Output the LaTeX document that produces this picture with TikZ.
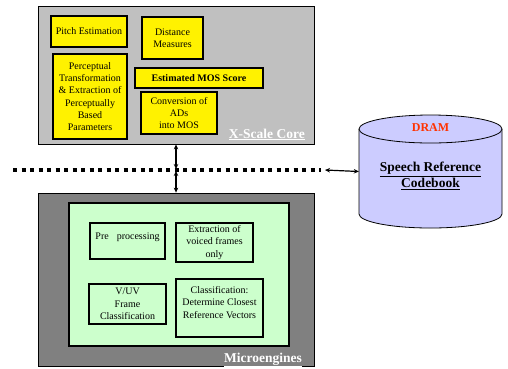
\documentclass[tikz,border=0pt]{standalone}
\usepackage{fontspec}
\setmainfont{Liberation Serif}
\usetikzlibrary{arrows.meta}
\definecolor{coregray}{HTML}{C0C0C0}
\definecolor{megray}{HTML}{808080}
\definecolor{meggreen}{HTML}{CCFFCC}
\definecolor{dramblue}{HTML}{CCCCFF}
\definecolor{dramred}{HTML}{FF3300}
\begin{document}
\begin{tikzpicture}[x=1pt,y=-1pt,
  every node/.style={inner sep=0pt, align=center},
  ybox/.style={draw=black, line width=1.6pt, fill=yellow,
    font=\fontsize{10}{12.2}\selectfont},
  gbox/.style={draw=black, line width=1.6pt, fill=meggreen,
    font=\fontsize{10}{12.4}\selectfont},
  corelabel/.style={text=white, font=\bfseries\fontsize{13.5}{16}\selectfont},
  dbl/.style={line width=1.2pt, {Stealth[length=5pt,width=4.5pt]}-{Stealth[length=5pt,width=4.5pt]}}
]
\useasboundingbox (0,0) rectangle (508,368);

% X-Scale core and its blocks
\node (xscale) [draw=black, line width=0.8pt, fill=coregray,
  minimum width=276pt, minimum height=138pt] at (176,75) {};
\node (pitch) [ybox, minimum width=76pt, minimum height=31pt] at (89,31.5) {Pitch Estimation};
\node (dist) [ybox, minimum width=61pt, minimum height=42pt] at (172.5,38) {Distance\\Measures};
\node (perc) [ybox, minimum width=74pt, minimum height=85pt] at (90,96.5)
  {Perceptual\\Transformation\\\& Extraction of\\Perceptually\\Based\\Parameters};
\node (mos) [ybox, minimum width=128pt, minimum height=20pt] at (199,78) {\textbf{Estimated MOS Score}};
\node (conv) [ybox, minimum width=76pt, minimum height=42pt] at (179,113) {Conversion of\\ADs\\into MOS};
\node (corelbl) [corelabel, anchor=base east] at (305,138) {\underline{X-Scale Core}};

% Microengines and their blocks
\node (micro) [draw=black, line width=0.8pt, fill=megray,
  minimum width=276pt, minimum height=173pt] at (176,279.5) {};
\node (green) [draw=black, line width=1.4pt, fill=meggreen,
  minimum width=220pt, minimum height=143pt] at (179,274.5) {};
\node (pre) [gbox, minimum width=75pt, minimum height=36pt] at (127.5,241) {};
\node (pretxt) [font=\fontsize{10}{12.4}\selectfont] at (127.5,237.5) {Pre\hspace{0.8em}processing};
\node (extr) [gbox, minimum width=77pt, minimum height=39pt] at (214.5,242.5) {Extraction of\\voiced frames\\only};
\node (vuv) [gbox, minimum width=77pt, minimum height=40pt] at (127.5,304) {V/UV\\Frame\\Classification};
\node (cls) [gbox, minimum width=87pt, minimum height=58pt] at (219.5,308) {};
\node (clstxt) [font=\fontsize{10}{12.4}\selectfont] at (219.5,302.5)
  {Classification:\\Determine Closest\\Reference Vectors};
\node (melbl) [corelabel, anchor=base east] at (302,362) {\underline{Microengines}};

% DRAM cylinder
\node (dram) [minimum width=143pt, minimum height=85pt] at (430.5,171.5) {};
\fill[dramblue] (359,129) -- (359,214) arc[start angle=180, end angle=360, x radius=71.5pt, y radius=14pt]
  -- (502,129) arc[start angle=0, end angle=-180, x radius=71.5pt, y radius=14pt] -- cycle;
\draw[line width=0.8pt] (359,129) -- (359,214) arc[start angle=180, end angle=360, x radius=71.5pt, y radius=14pt]
  -- (502,129);
\draw[line width=0.8pt, fill=dramblue] (430.5,129) ellipse[x radius=71.5pt, y radius=14pt];
\node (dramlbl) [text=dramred, font=\bfseries\fontsize{12}{14}\selectfont] at (430.5,128) {DRAM};
\node (codebook) [font=\bfseries\fontsize{13.5}{16}\selectfont] at (430.5,176)
  {\underline{Speech Reference}\\\underline{Codebook}};

% Bus and connectors
\coordinate (busL) at (13,170);
\coordinate (busR) at (321,170);
\coordinate (busEnd) at (325,170);
\coordinate (busU) at (176,169);
\coordinate (busD) at (176,171);
\draw[line width=4.3pt, dash pattern=on 4.3pt off 4.2pt] (busL) -- (busR);
\draw[dbl] (busEnd) -- (dram.west);
\draw[dbl] (xscale.south) -- (busU);
\draw[dbl] (busD) -- (micro.north);
\end{tikzpicture}
\end{document}
